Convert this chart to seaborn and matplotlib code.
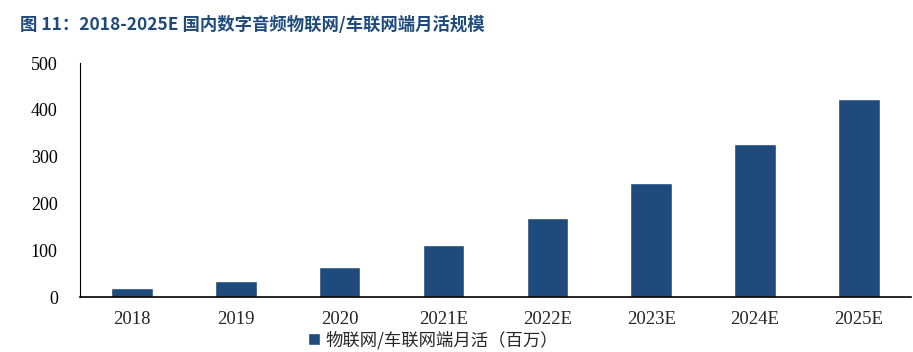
import pandas as pd
import seaborn as sns
from matplotlib import pyplot as plt

years = ['2018', '2019', '2020', '2021E', '2022E', '2023E', '2024E', '2025E']
mau = [19, 34, 64, 111, 169, 244, 327, 423]
series_name = '物联网/车联网端月活（百万）'

df = pd.DataFrame({'year': years, 'mau': mau})

sns.set_style('white')
plt.rcParams['font.family'] = ['Liberation Serif', 'Noto Sans CJK SC', 'DejaVu Sans']

fig = plt.figure(figsize=(9.13, 3.52), dpi=100)
ax = fig.add_axes([0.0876, 0.156, 0.91, 0.665])

sns.barplot(data=df, x='year', y='mau', color='#1F4A7C', width=0.4,
            saturation=1, ax=ax, label=series_name)

ax.set_ylim(0, 500)
ax.set_yticks(range(0, 501, 100))
ax.set_xlim(-0.5, 7.5)
ax.set_xlabel('')
ax.set_ylabel('')
ax.tick_params(axis='y', direction='out', length=4, width=1, labelsize=13, colors='black', pad=12)
ax.tick_params(axis='x', length=0, labelsize=13.5, pad=10)
sns.despine(ax=ax, top=True, right=True)
ax.spines['left'].set_color('black')
ax.spines['bottom'].set_color('black')
ax.spines['bottom'].set_linewidth(1.2)

leg = ax.legend(loc='center', bbox_to_anchor=(0.425, -0.184), frameon=False,
                handlelength=0.7, handleheight=0.7, handletextpad=0.3,
                prop={'family': ['Noto Sans CJK SC', 'DejaVu Sans'], 'size': 12.5})

fig.text(0.022, 0.929, '图 11：2018-2025E 国内数字音频物联网/车联网端月活规模',
         fontsize=12.5, fontweight='bold', color='#1F4A7C', va='center',
         family=['Noto Sans CJK SC', 'DejaVu Sans'])

fig.savefig('out.png', dpi=100)
